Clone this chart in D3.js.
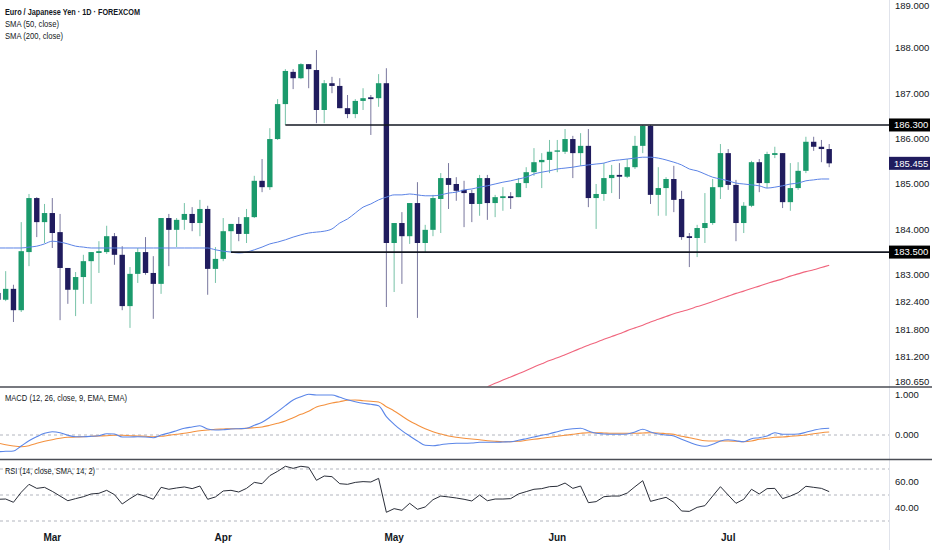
<!DOCTYPE html>
<html>
<head>
<meta charset="utf-8">
<script src="https://cdnjs.cloudflare.com/ajax/libs/d3/7.8.5/d3.min.js"></script>
<style>
  body { margin: 0; background: #fff; }
  .viz text { font-family: "Liberation Sans", Arial, sans-serif; fill: #131722; }
</style>
</head>
<body>
<div class="viz"></div>
<script>
const width = 932;
const height = 550;

// bar index of the first candle (0 = first trading day of March)
const firstIndex = -7;

const opens = [182.60, 182.45, 182.69, 182.22, 183.50, 184.69, 184.16,
  184.36, 183.94, 183.15, 182.67, 182.95, 183.30, 183.48, 183.50, 183.85, 183.44,
  182.31, 183.02, 183.50, 183.04, 182.80, 184.25, 183.99, 184.21, 184.34, 184.14,
  184.45, 183.13, 183.35, 183.96, 184.12, 183.90, 184.27, 185.07, 184.93, 185.99,
  186.76, 187.47, 187.33, 187.64, 187.51, 186.63, 187.22, 187.16, 186.67, 186.54,
  186.83, 186.91, 186.89, 187.22, 183.70, 184.14, 183.85, 184.58, 183.70, 183.99,
  184.67, 185.13, 185.00, 184.87, 184.80, 184.56, 185.13, 184.58, 184.69, 184.73,
  184.71, 185.02, 185.26, 185.48, 185.53, 185.71, 185.71, 185.99, 185.68, 185.84,
  184.69, 184.78, 185.13, 185.20, 185.16, 185.37, 185.84, 186.28, 184.76, 184.91,
  185.11, 184.67, 183.85, 183.81, 184.03, 184.14, 184.93, 185.68, 184.98, 184.14,
  184.52, 185.48, 185.02, 185.64, 185.68, 184.60, 184.91, 185.29, 185.93, 185.82,
  185.77];
const highs = [182.70, 183.08, 182.78, 184.16, 184.78, 184.71, 184.56,
  184.69, 184.34, 183.15, 183.06, 183.44, 183.50, 183.74, 184.08, 183.92, 183.63,
  183.17, 183.59, 183.83, 183.41, 184.25, 184.34, 184.25, 184.58, 184.49, 184.65,
  184.52, 183.61, 184.25, 184.12, 184.27, 184.45, 185.18, 185.55, 186.23, 186.87,
  187.53, 187.53, 187.66, 187.64, 187.95, 187.29, 187.36, 187.33, 186.96, 186.87,
  187.11, 186.96, 187.42, 187.55, 184.14, 184.38, 184.58, 185.04, 184.10, 184.76,
  185.24, 185.46, 185.15, 185.07, 184.87, 185.20, 185.20, 184.76, 184.93, 184.82,
  185.13, 185.37, 185.79, 185.68, 185.97, 185.97, 186.21, 186.06, 186.12, 186.21,
  185.00, 185.46, 185.42, 185.46, 185.55, 186.06, 186.30, 186.30, 185.37, 185.15,
  185.40, 184.85, 183.92, 184.10, 184.80, 185.11, 185.88, 185.77, 185.09, 184.60,
  185.51, 185.55, 185.71, 185.82, 185.68, 185.46, 185.48, 186.04, 186.04, 185.97,
  185.88];
const lows = [182.40, 182.42, 181.96, 182.18, 183.19, 183.83, 183.70,
  183.59, 182.00, 182.36, 182.09, 182.36, 182.36, 183.04, 183.46, 183.22, 182.22,
  181.83, 182.82, 183.00, 182.03, 182.58, 183.19, 183.61, 183.99, 183.96, 183.85,
  182.56, 182.82, 183.30, 183.50, 183.74, 183.70, 184.25, 184.82, 184.87, 185.97,
  186.30, 187.09, 187.31, 187.11, 186.34, 186.34, 187.00, 186.67, 186.45, 186.45,
  186.63, 186.08, 186.70, 182.29, 182.62, 182.80, 183.68, 182.05, 183.50, 183.85,
  183.92, 184.45, 184.63, 184.05, 184.16, 184.30, 184.21, 184.27, 184.41, 184.45,
  184.71, 184.91, 185.18, 184.91, 185.24, 185.26, 185.66, 185.13, 185.40, 184.49,
  184.01, 184.63, 184.80, 184.67, 185.13, 185.33, 185.68, 184.56, 184.30, 184.30,
  184.38, 183.77, 183.17, 183.39, 183.70, 184.10, 184.67, 184.87, 183.74, 183.92,
  184.49, 184.82, 184.91, 185.57, 184.47, 184.41, 184.87, 185.24, 185.73, 185.48,
  185.37];
const closes = [182.45, 182.69, 182.22, 183.52, 184.69, 184.16, 184.36,
  183.92, 183.15, 182.67, 182.95, 183.30, 183.50, 183.52, 183.85, 183.44, 182.31,
  183.02, 183.50, 183.04, 182.80, 184.25, 183.99, 184.21, 184.34, 184.14, 184.45,
  183.13, 183.35, 183.96, 184.12, 183.90, 184.27, 185.07, 184.93, 185.99, 186.76,
  187.49, 187.33, 187.64, 187.53, 186.63, 187.22, 187.16, 186.67, 186.54, 186.83,
  186.89, 186.87, 187.22, 183.70, 184.14, 183.85, 184.58, 183.70, 183.99, 184.69,
  185.13, 184.98, 184.85, 184.80, 184.56, 185.13, 184.58, 184.71, 184.73, 184.69,
  185.02, 185.26, 185.48, 185.53, 185.71, 185.74, 185.99, 185.68, 185.84, 184.69,
  184.78, 185.13, 185.20, 185.16, 185.37, 185.84, 186.28, 184.76, 184.91, 185.11,
  184.65, 183.83, 183.81, 184.03, 184.14, 184.93, 185.68, 184.98, 184.14, 184.52,
  185.48, 185.02, 185.66, 185.68, 184.60, 184.91, 185.29, 185.93, 185.82, 185.77,
  185.455];

const sma50 = [183.59, 183.59, 183.59, 183.59, 183.61, 183.63, 183.68,
  183.74, 183.72, 183.68, 183.63, 183.61, 183.59, 183.59, 183.59, 183.59, 183.59,
  183.59, 183.59, 183.59, 183.59, 183.59, 183.59, 183.59, 183.59, 183.59, 183.59,
  183.59, 183.55, 183.52, 183.50, 183.48, 183.50, 183.55, 183.61, 183.68, 183.72,
  183.77, 183.83, 183.88, 183.92, 183.94, 183.96, 184.01, 184.14, 184.23, 184.36,
  184.49, 184.56, 184.65, 184.71, 184.76, 184.76, 184.78, 184.76, 184.74, 184.74,
  184.76, 184.80, 184.82, 184.87, 184.89, 184.93, 184.96, 185.00, 185.04, 185.07,
  185.11, 185.15, 185.22, 185.26, 185.29, 185.33, 185.35, 185.37, 185.40, 185.42,
  185.44, 185.46, 185.51, 185.53, 185.55, 185.57, 185.59, 185.59, 185.57, 185.53,
  185.48, 185.42, 185.33, 185.29, 185.22, 185.15, 185.11, 185.07, 185.02, 185.00,
  184.98, 184.96, 184.91, 184.93, 184.96, 185.00, 185.02, 185.07, 185.09, 185.11,
  185.11];

// SMA 200 only enters the visible range at bar 56
const sma200Start = 56;
const sma200 = [180.53, 180.61, 180.68, 180.75, 180.82, 180.89, 180.97, 181.04,
  181.11, 181.17, 181.24, 181.31, 181.38, 181.45, 181.51, 181.58, 181.64, 181.70,
  181.77, 181.83, 181.89, 181.96, 182.02, 182.08, 182.14, 182.19, 182.24, 182.30,
  182.35, 182.41, 182.47, 182.53, 182.59, 182.64, 182.70, 182.75, 182.81, 182.86,
  182.91, 182.97, 183.02, 183.07, 183.11, 183.16, 183.21];

const macdLine = [-0.417, -0.408, -0.400, -0.275, -0.142, -0.042, 0.042,
  0.083, 0.058, -0.008, -0.042, -0.042, -0.033, -0.017, 0.033, 0.025, -0.050,
  -0.050, -0.042, -0.050, -0.067, 0.000, 0.050, 0.108, 0.167, 0.200, 0.233,
  0.150, 0.125, 0.133, 0.150, 0.158, 0.167, 0.242, 0.317, 0.442, 0.583,
  0.733, 0.875, 0.958, 1.017, 1.000, 1.000, 1.000, 0.942, 0.883, 0.833,
  0.792, 0.767, 0.733, 0.458, 0.267, 0.108, -0.025, -0.150, -0.258, -0.267,
  -0.242, -0.217, -0.208, -0.208, -0.200, -0.183, -0.183, -0.183, -0.175, -0.167,
  -0.133, -0.092, -0.050, -0.008, 0.033, 0.083, 0.133, 0.158, 0.167, 0.100,
  0.042, 0.025, 0.017, 0.017, 0.025, 0.075, 0.142, 0.075, 0.025, 0.000,
  -0.025, -0.108, -0.183, -0.250, -0.283, -0.233, -0.150, -0.117, -0.142, -0.167,
  -0.092, -0.067, -0.025, 0.058, 0.017, 0.017, 0.025, 0.067, 0.117, 0.158,
  0.167];
const signalLine = [-0.200, -0.242, -0.275, -0.292, -0.267, -0.208, -0.158,
  -0.117, -0.083, -0.058, -0.050, -0.042, -0.033, -0.025, -0.017, -0.008, -0.008,
  -0.017, -0.025, -0.033, -0.042, -0.033, -0.008, 0.017, 0.042, 0.075, 0.108,
  0.125, 0.142, 0.150, 0.158, 0.158, 0.167, 0.183, 0.200, 0.242, 0.292,
  0.350, 0.433, 0.517, 0.592, 0.700, 0.750, 0.800, 0.833, 0.867, 0.875,
  0.858, 0.842, 0.825, 0.708, 0.600, 0.475, 0.350, 0.250, 0.158, 0.083,
  0.025, -0.025, -0.058, -0.083, -0.100, -0.117, -0.142, -0.158, -0.167, -0.167,
  -0.158, -0.133, -0.108, -0.083, -0.058, -0.033, -0.008, 0.017, 0.042, 0.058,
  0.058, 0.050, 0.042, 0.042, 0.042, 0.042, 0.050, 0.058, 0.050, 0.033,
  0.017, -0.033, -0.067, -0.108, -0.142, -0.150, -0.150, -0.150, -0.158, -0.167,
  -0.150, -0.108, -0.083, -0.058, -0.050, -0.033, -0.017, 0.000, 0.033, 0.058,
  0.075];
const rsiValues = [46.7, 46.9, 44.4, 52.1, 58.2, 55.1, 55.9,
  52.8, 49.2, 45.6, 47.2, 48.7, 50.8, 51.3, 53.6, 50.3, 43.1,
  47.2, 50.8, 49.0, 46.7, 55.9, 54.4, 55.4, 56.2, 54.9, 56.9,
  46.7, 48.5, 53.1, 53.6, 52.3, 55.1, 59.7, 58.7, 64.9, 68.2,
  72.1, 70.5, 72.1, 71.3, 61.3, 64.6, 64.1, 58.7, 58.2, 59.7,
  60.3, 60.0, 62.8, 36.7, 39.5, 38.2, 43.6, 39.0, 40.8, 46.4,
  49.2, 48.5, 47.7, 46.7, 45.4, 50.0, 45.6, 46.9, 46.9, 47.2,
  50.8, 52.6, 54.4, 54.9, 56.4, 56.7, 59.2, 55.1, 56.9, 44.1,
  44.9, 48.7, 49.2, 49.2, 51.5, 56.4, 61.0, 45.1, 46.7, 48.2,
  44.4, 37.7, 37.4, 40.5, 41.8, 49.2, 56.4, 50.0, 43.6, 46.7,
  54.4, 50.8, 54.9, 55.1, 47.2, 49.2, 51.8, 56.7, 55.9, 55.1,
  52.6];

const monthLabels = ["Mar", "Apr", "May", "Jun", "Jul"];
const monthIndex = [0, 22, 44, 65, 87];

const priceTicks = [189, 188, 187, 186, 185, 184, 183, 182.4, 181.8, 181.2, 180.65];
const macdTicks = [1, 0];
const rsiTicks = [60, 40];
const rsiBands = [70, 50, 30];

// support / resistance levels and the bar they start from
const levels = [186.3, 183.5];
const levelStart = [30, 23];

const lastPrice = 185.455;

const bullColor = "#1b9a6c";
const bearColor = "#201c5e";

// layout
const plotRight = 889;
const mainBottom = 386.5;
const macdTop = 387, macdBottom = 459;
const rsiTop = 460, rsiBottom = 522;

const svg = d3.select(".viz")
  .append("svg")
  .attr("width", width)
  .attr("height", height);

const x = d3.scaleLinear().domain([0, 100]).range([52.3, 829.2]);
const y = d3.scaleLinear().domain([180.55, 189.053]).range([386, 0]);
const yMacd = d3.scaleLinear().domain([0, 1]).range([435, 395]);
const yRsi = d3.scaleLinear().domain([30, 70]).range([521, 469]);

const candles = d3.range(opens.length).map(k => ({
  i: k + firstIndex,
  o: opens[k], h: highs[k], l: lows[k], c: closes[k]
}));

// clip areas
const defs = svg.append("defs");
defs.append("clipPath").attr("id", "clipMain")
  .append("rect").attr("x", 0).attr("y", 0).attr("width", plotRight).attr("height", mainBottom);
defs.append("clipPath").attr("id", "clipMacd")
  .append("rect").attr("x", 0).attr("y", macdTop).attr("width", plotRight).attr("height", macdBottom - macdTop);
defs.append("clipPath").attr("id", "clipRsi")
  .append("rect").attr("x", 0).attr("y", rsiTop).attr("width", plotRight).attr("height", rsiBottom - rsiTop);
defs.append("clipPath").attr("id", "clipAxis")
  .append("rect").attr("x", plotRight).attr("y", 0).attr("width", width - plotRight).attr("height", mainBottom);

// ---- main pane ----
const main = svg.append("g").attr("clip-path", "url(#clipMain)");

const bodyW = 5.4;
main.selectAll(".wick")
  .data(candles)
  .enter()
  .append("line")
  .attr("class", "wick")
  .attr("x1", d => x(d.i)).attr("x2", d => x(d.i))
  .attr("y1", d => y(d.h)).attr("y2", d => y(d.l))
  .attr("stroke", d => d.c >= d.o ? bullColor : bearColor)
  .attr("stroke-opacity", 0.6)
  .attr("stroke-width", 1);

main.selectAll(".body")
  .data(candles)
  .enter()
  .append("rect")
  .attr("class", "body")
  .attr("x", d => x(d.i) - bodyW / 2)
  .attr("width", bodyW)
  .attr("y", d => y(Math.max(d.o, d.c)))
  .attr("height", d => Math.max(1.2, Math.abs(y(d.o) - y(d.c))))
  .attr("fill", d => d.c >= d.o ? bullColor : bearColor);

const smaLine = d3.line().x(d => x(d[0])).y(d => y(d[1])).curve(d3.curveMonotoneX);

main.append("path")
  .datum(sma50.map((v, k) => [k + firstIndex, v]))
  .attr("d", smaLine)
  .attr("fill", "none")
  .attr("stroke", "#5b83e6")
  .attr("stroke-width", 1);

main.append("path")
  .datum(sma200.map((v, k) => [k + sma200Start, v]))
  .attr("d", smaLine)
  .attr("fill", "none")
  .attr("stroke", "#f0657d")
  .attr("stroke-width", 1.1);

// horizontal levels
svg.selectAll(".level")
  .data(levels)
  .enter()
  .append("line")
  .attr("class", "level")
  .attr("x1", (d, k) => x(levelStart[k]))
  .attr("x2", plotRight)
  .attr("y1", d => y(d)).attr("y2", d => y(d))
  .attr("stroke", "#131722")
  .attr("stroke-width", 1.6);

// legend (the source font is condensed, so squeeze to the same widths)
function condensed(sel, len) {
  sel.attr("textLength", len).attr("lengthAdjust", "spacingAndGlyphs");
}
const legend = svg.append("g").attr("transform", "translate(5,0)");
legend.append("text").attr("y", 15).attr("font-size", 9.5).attr("font-weight", 600)
  .text("Euro / Japanese Yen · 1D · FOREXCOM").call(condensed, 135);
legend.append("text").attr("y", 27).attr("font-size", 9.5)
  .text("SMA (50, close)").call(condensed, 54);
legend.append("text").attr("y", 39).attr("font-size", 9.5)
  .text("SMA (200, close)").call(condensed, 58);

// ---- MACD pane ----
const macdG = svg.append("g").attr("clip-path", "url(#clipMacd)");
macdG.append("line")
  .attr("x1", 0).attr("x2", plotRight)
  .attr("y1", yMacd(0)).attr("y2", yMacd(0))
  .attr("stroke", "#b2b5be").attr("stroke-dasharray", "3,3");

const macdPath = d3.line().x((d, k) => x(k + firstIndex)).y(d => yMacd(d)).curve(d3.curveMonotoneX);
macdG.append("path").datum(signalLine).attr("d", macdPath)
  .attr("fill", "none").attr("stroke", "#f4913e").attr("stroke-width", 1.1);
macdG.append("path").datum(macdLine).attr("d", macdPath)
  .attr("fill", "none").attr("stroke", "#5b86e8").attr("stroke-width", 1.1);

svg.append("text").attr("x", 5).attr("y", 401).attr("font-size", 9)
  .text("MACD (12, 26, close, 9, EMA, EMA)").call(condensed, 122);

// ---- RSI pane ----
const rsiG = svg.append("g").attr("clip-path", "url(#clipRsi)");
rsiG.selectAll(".band")
  .data(rsiBands)
  .enter()
  .append("line")
  .attr("x1", 0).attr("x2", plotRight)
  .attr("y1", d => yRsi(d)).attr("y2", d => yRsi(d))
  .attr("stroke", "#b2b5be").attr("stroke-dasharray", "3,3");

rsiG.append("path")
  .datum(rsiValues)
  .attr("d", d3.line().x((d, k) => x(k + firstIndex)).y(d => yRsi(d)))
  .attr("fill", "none")
  .attr("stroke", "#2a2e39")
  .attr("stroke-width", 1);

svg.append("text").attr("x", 5).attr("y", 474).attr("font-size", 9)
  .text("RSI (14, close, SMA, 14, 2)").call(condensed, 90);

// ---- separators and price axis ----
svg.append("line")
  .attr("x1", plotRight + 0.5).attr("x2", plotRight + 0.5)
  .attr("y1", 0).attr("y2", height)
  .attr("stroke", "#e0e3eb");

[mainBottom + 0.5, macdBottom + 0.5].forEach(py => {
  svg.append("line")
    .attr("x1", 0).attr("x2", width)
    .attr("y1", py).attr("y2", py)
    .attr("stroke", "#4a4d55")
    .attr("stroke-width", 1.4);
});

const axisMain = svg.append("g").attr("clip-path", "url(#clipAxis)");
axisMain.selectAll(".ptick")
  .data(priceTicks)
  .enter()
  .append("text")
  .attr("x", 895)
  .attr("y", d => Math.max(y(d), 6))
  .attr("dy", "0.35em")
  .attr("font-size", 9.5)
  .text(d => d3.format(".3f")(d));

// level and last price tags
const tags = levels.map(v => ({ v: v, bg: "#000000" })).concat([{ v: lastPrice, bg: bearColor }]);
const tagG = svg.selectAll(".tag")
  .data(tags)
  .enter()
  .append("g")
  .attr("transform", d => `translate(${plotRight},${y(d.v)})`);
tagG.append("rect")
  .attr("x", 0).attr("y", -6.5).attr("width", 41).attr("height", 13)
  .attr("fill", d => d.bg);
tagG.append("text")
  .attr("x", 5).attr("dy", "0.35em")
  .attr("font-size", 9.5)
  .style("fill", "#ffffff")
  .text(d => d3.format(".3f")(d.v));

svg.selectAll(".mtick")
  .data(macdTicks)
  .enter()
  .append("text")
  .attr("x", 895).attr("y", d => yMacd(d)).attr("dy", "0.35em")
  .attr("font-size", 9.5)
  .text(d => d3.format(".3f")(d));

svg.selectAll(".rtick")
  .data(rsiTicks)
  .enter()
  .append("text")
  .attr("x", 895).attr("y", d => yRsi(d)).attr("dy", "0.35em")
  .attr("font-size", 9.5)
  .text(d => d3.format(".2f")(d));

// ---- time axis ----
svg.selectAll(".month")
  .data(monthLabels)
  .enter()
  .append("text")
  .attr("x", (d, k) => x(monthIndex[k]))
  .attr("y", 537)
  .attr("dy", "0.35em")
  .attr("text-anchor", "middle")
  .attr("font-size", 10)
  .attr("font-weight", 600)
  .text(d => d);
</script>
</body>
</html>
